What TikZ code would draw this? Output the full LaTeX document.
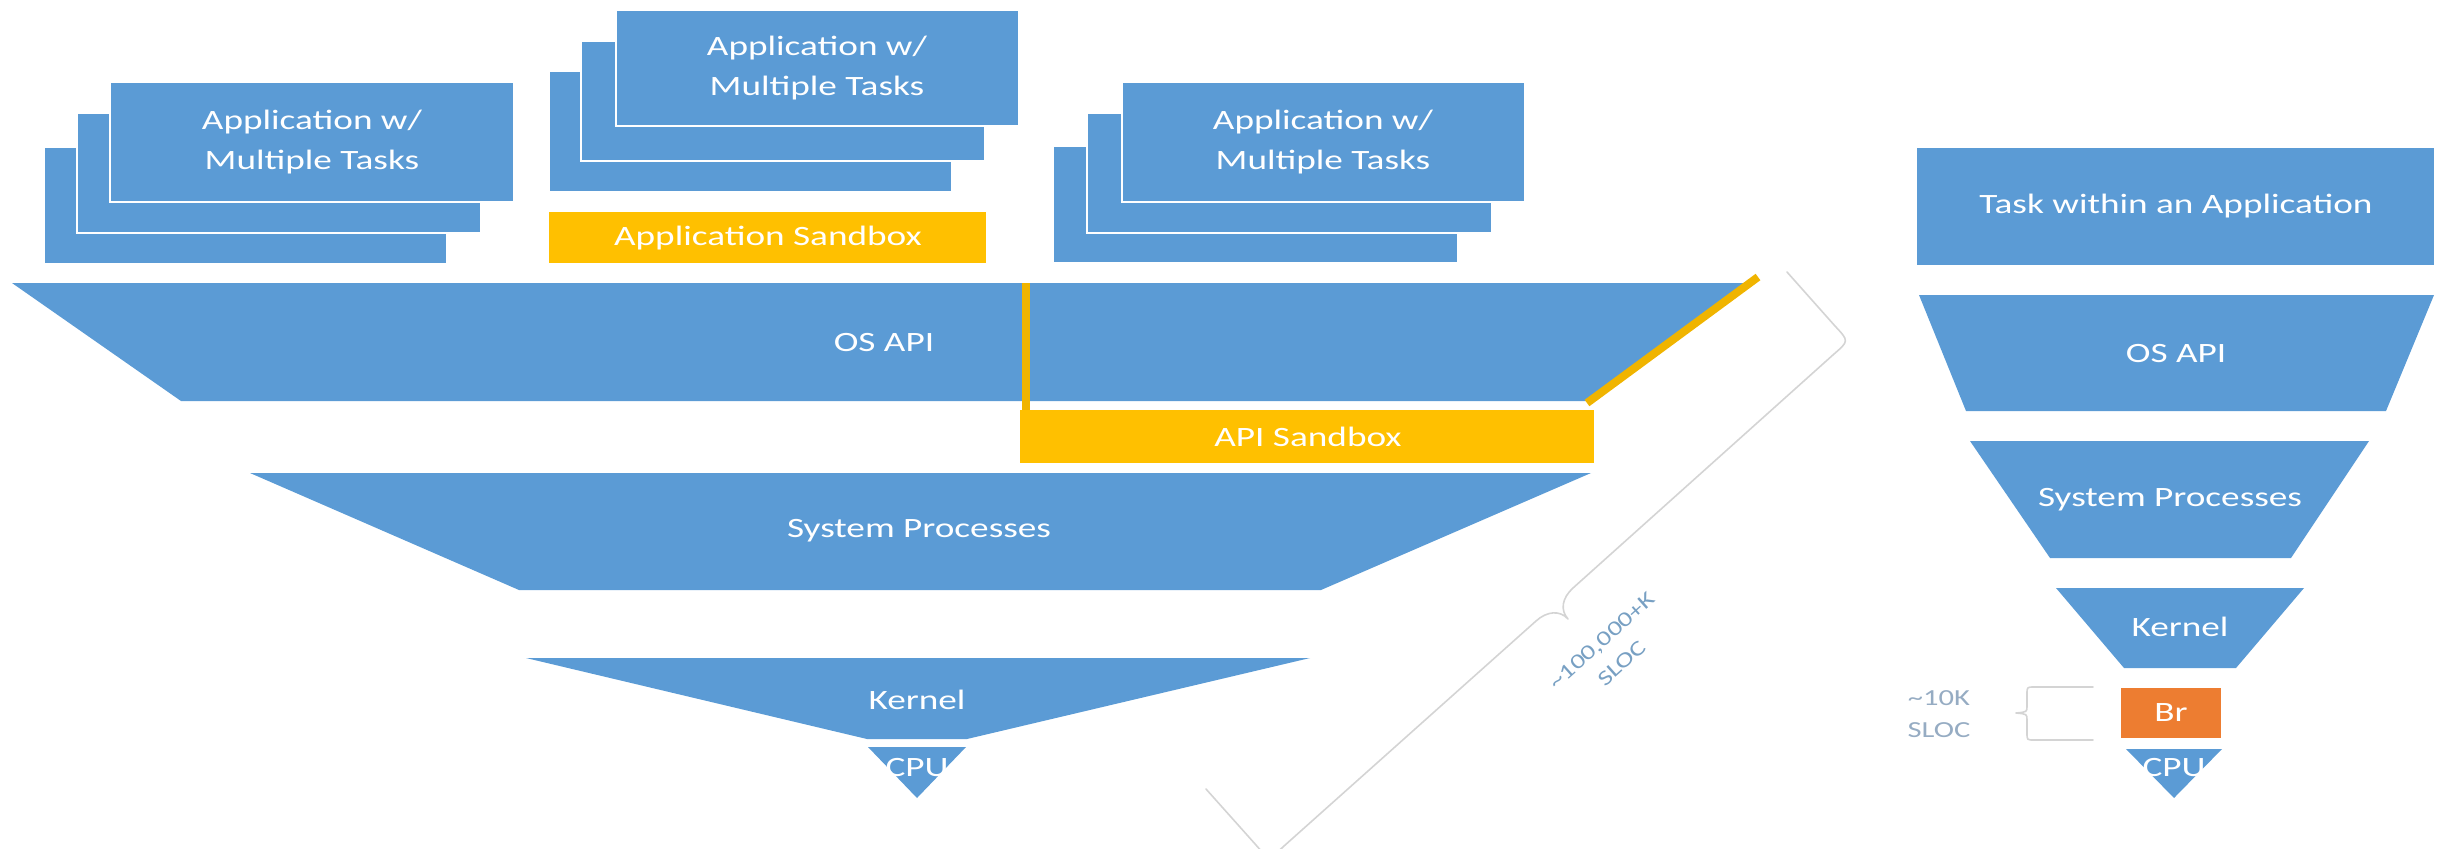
\documentclass[tikz,border=0pt]{standalone}
\usepackage{fontspec}
\setmainfont{Carlito}[FakeStretch=1.33]
\definecolor{osblue}{RGB}{91,155,213}
\definecolor{sand}{RGB}{255,192,0}
\definecolor{sandedge}{RGB}{240,180,0}
\definecolor{brorange}{RGB}{237,125,49}
\definecolor{bracegray}{RGB}{212,212,212}
\definecolor{notegray}{RGB}{120,160,195}
\definecolor{notelight}{RGB}{150,172,195}
\begin{document}
\begin{tikzpicture}[x=0.5pt,y=-0.5pt,
  appbox/.style={fill=osblue,draw=white,line width=0.8pt},
  layer/.style={fill=osblue},
  sandfill/.style={fill=sand},
  sandline/.style={draw=sandedge,line width=4pt},
  lbl/.style={text=white,font=\fontsize{14}{20}\selectfont,align=center,inner sep=0pt},
  note/.style={text=notegray,font=\fontsize{10.5}{15}\selectfont,align=center,inner sep=0pt},
  bracestroke/.style={draw=bracegray,line width=0.8pt,line join=round,line cap=round}]
\useasboundingbox (0,0) rectangle (2442,848);
\clip (0,0) rectangle (2442,848);

% ---------- left: three applications, each a stack of task cards ----------
\path[appbox] (44,147) rectangle (447,264);
\path[appbox] (77,113) rectangle (481,233);
\path[appbox] (110,82) rectangle (514,202);
\node[lbl] (appA) at (312,142) {Application w/\\Multiple Tasks};

\path[appbox] (549,71) rectangle (952,192);
\path[appbox] (581,41) rectangle (985,161);
\path[appbox] (616,10) rectangle (1019,126);
\node[lbl] (appB) at (817,68) {Application w/\\Multiple Tasks};
\path[sandfill] (549,212) rectangle (986,263);
\node[lbl] (appsb) at (768,238) {Application Sandbox};

\path[appbox] (1053,146) rectangle (1458,263);
\path[appbox] (1087,113) rectangle (1492,233);
\path[appbox] (1122,82) rectangle (1525,202);
\node[lbl] (appC) at (1323,142) {Application w/\\Multiple Tasks};

% ---------- left: OS layers ----------
\path[layer] (12,283) -- (1752,283) -- (1587,401) -- (181,401) -- cycle;
\node[lbl] (osapi) at (884,342) {OS API};
\draw[sandline] (1026,283) -- (1026,412);
\draw[sandline] (1587,403) -- (1758,277);
\path[sandfill] (1020,410) rectangle (1594,463);
\node[lbl] (apisb) at (1308,437) {API Sandbox};

\path[layer] (250,473) -- (1591,473) -- (1321,590) -- (519,590) -- cycle;
\node[lbl] (sysproc) at (919,531) {System Processes};

\path[layer] (526,658) -- (1310,658) -- (967,739) -- (867,739) -- cycle;
\node[lbl] (kernel) at (917,700) {Kernel};

\path[layer] (868,747) -- (966,747) -- (917,798) -- cycle;
\node[lbl] (cpu) at (917,767) {CPU};

% brace spanning the whole stack
\draw[bracestroke] (1787,272) -- (1835,326) .. controls (1849,341) .. (1834,354)
  -- (1573,588) .. controls (1562,598) and (1560,610) .. (1568,619)
  .. controls (1560,610) and (1547,611) .. (1536,621)
  -- (1284,846) .. controls (1269,860) .. (1256,845) -- (1206,789);
\node[note,rotate=41.8] (bignote) at (1612,652) {\textasciitilde100,000+K\\SLOC};

% ---------- right: single task stack ----------
\path[layer] (1917,148) rectangle (2434,265);
\node[lbl] (task) at (2176,206) {Task within an Application};

\path[layer] (1919,295) -- (2434,295) -- (2386,411) -- (1966,411) -- cycle;
\node[lbl] (osapiR) at (2176,353) {OS API};

\path[layer] (1970,441) -- (2369,441) -- (2291,558) -- (2050,558) -- cycle;
\node[lbl] (sysprocR) at (2170,500) {System Processes};

\path[layer] (2056,588) -- (2304,588) -- (2236,668) -- (2124,668) -- cycle;
\node[lbl] (kernelR) at (2180,627) {Kernel};

\path[fill=brorange] (2121,688) rectangle (2221,738);
\node[lbl] (br) at (2171,713) {Br};

\path[layer] (2126,749) -- (2222,749) -- (2174,798) -- cycle;
\node[lbl] (cpuR) at (2174,767) {CPU};

% small brace next to Br
\draw[bracestroke] (2093,687) -- (2034,687) .. controls (2027,687) .. (2027,694)
  -- (2027,706) .. controls (2027,712) .. (2016,713)
  .. controls (2027,714) .. (2027,720) -- (2027,733)
  .. controls (2027,740) .. (2034,740) -- (2093,740);
\node[note,text=notelight,font=\fontsize{11.5}{16}\selectfont] (smallnote) at (1939,714) {\textasciitilde10K\\SLOC};
\end{tikzpicture}
\end{document}
